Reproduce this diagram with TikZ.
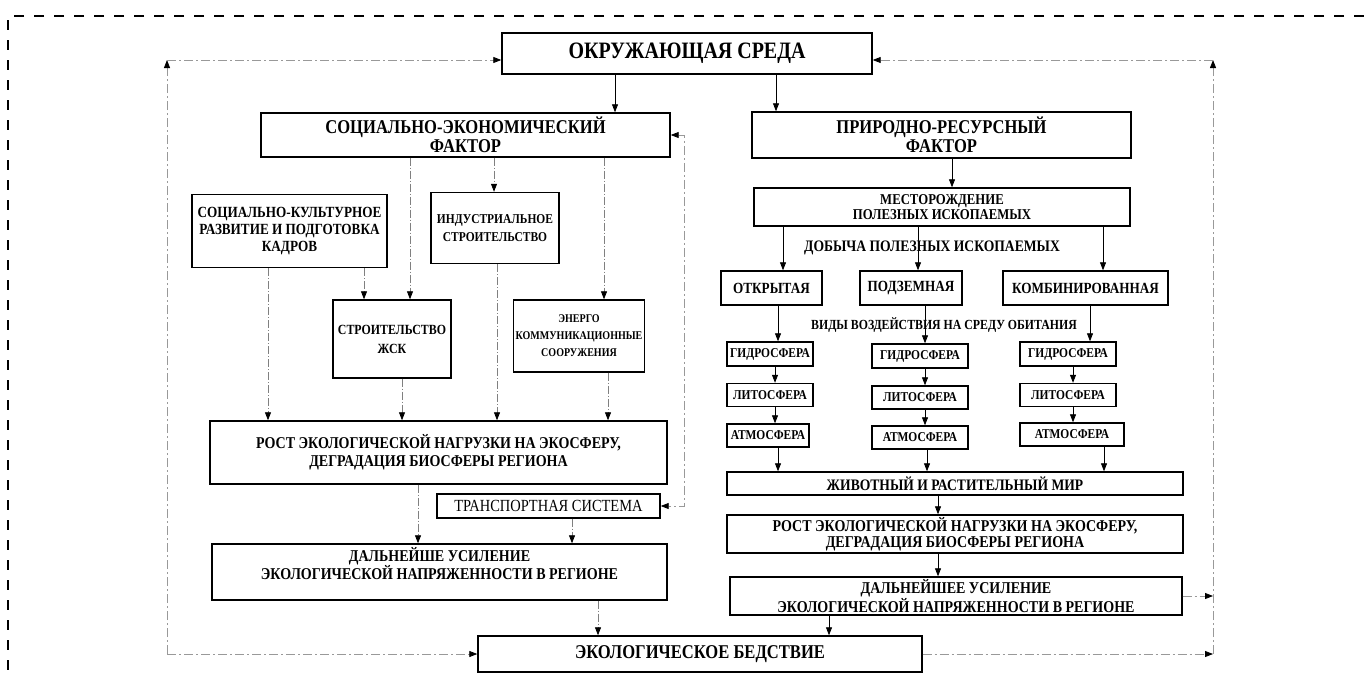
\documentclass[tikz,border=0pt]{standalone}
\usepackage{fontspec}
\setmainfont{Liberation Serif}[FakeStretch=0.85]
\usetikzlibrary{arrows.meta}

\begin{document}
\begin{tikzpicture}[x=1pt, y=-1pt,
    >={Triangle[length=8pt,width=6pt,color=black]},
    arr/.style={->, line width=.8pt},
    dd/.style={arr, gray, dash pattern=on 8pt off 2pt on 1pt off 2pt},
    fb/.style={arr, gray!80, dash pattern=on 9pt off 3pt on 2pt off 3pt},
  ]
  \useasboundingbox (0,0) rectangle (1364,675);
  \draw[line width=2.5pt, dash pattern=on 10pt off 10pt] (1364,16) -- (8,16) -- (8,675);

  \begin{scope}[
    every node/.style={
    draw,
    line width=1.4pt,
    align=center,
    inner sep=1pt,
    font=\bfseries\fontsize{15.5}{17}\selectfont,
    }
  ]
    \node[minimum width=370pt, minimum height=41pt, font=\bfseries\fontsize{23.5}{25}\selectfont] (a) at (687, 53.5) {ОКРУЖАЮЩАЯ СРЕДА};
    \node[minimum width=409pt, minimum height=44pt, font=\bfseries\fontsize{19.5}{19.5}\selectfont] (b) at (465.5, 135) {СОЦИАЛЬНО-ЭКОНОМИЧЕСКИЙ\\ФАКТОР};
    \node[minimum width=379pt, minimum height=46pt, font=\bfseries\fontsize{19.5}{19.5}\selectfont] (c) at (941.5, 135) {ПРИРОДНО-РЕСУРСНЫЙ\\ФАКТОР};
    \node[minimum width=195pt, minimum height=73pt] (d) at (289.5, 231) {СОЦИАЛЬНО-КУЛЬТУРНОЕ\\РАЗВИТИЕ И ПОДГОТОВКА\\КАДРОВ};
    \node[minimum width=128pt, minimum height=71pt, font=\bfseries\fontsize{13.5}{18}\selectfont] (e) at (495, 228) {ИНДУСТРИАЛЬНОЕ\\СТРОИТЕЛЬСТВО};
    \node[minimum width=118pt, minimum height=78pt, font=\bfseries\fontsize{14}{19}\selectfont] (f) at (392, 339) {СТРОИТЕЛЬСТВО\\ЖСК};
    \node[minimum width=131pt, minimum height=72pt, font=\bfseries\fontsize{11.8}{17}\selectfont] (g) at (579, 336) {ЭНЕРГО\\КОММУНИКАЦИОННЫЕ\\СООРУЖЕНИЯ};
    \node[minimum width=457pt, minimum height=63pt, font=\bfseries\fontsize{16.5}{18}\selectfont] (h) at (438.5, 452.5) {РОСТ ЭКОЛОГИЧЕСКОЙ НАГРУЗКИ НА ЭКОСФЕРУ,\\ДЕГРАДАЦИЯ БИОСФЕРЫ РЕГИОНА};
    \node[minimum width=223pt, minimum height=24pt, font=\fontsize{17}{18}\selectfont] (i) at (548.5, 506) {ТРАНСПОРТНАЯ СИСТЕМА};
    \node[minimum width=455pt, minimum height=56pt, font=\bfseries\fontsize{16.5}{16}\selectfont] (j) at (439.5, 572) {ДАЛЬНЕЙШЕ УСИЛЕНИЕ\\ЭКОЛОГИЧЕСКОЙ НАПРЯЖЕННОСТИ В РЕГИОНЕ\\[1pt] \mbox{}};
    \node[minimum width=444pt, minimum height=36pt, font=\bfseries\fontsize{19.5}{20}\selectfont] (k) at (700, 654) {ЭКОЛОГИЧЕСКОЕ БЕДСТВИЕ};

    \node[minimum width=376pt, minimum height=38pt, font=\bfseries\fontsize{15}{15}\selectfont] (l) at (942, 207) {МЕСТОРОЖДЕНИЕ\\ПОЛЕЗНЫХ ИСКОПАЕМЫХ};
    \node[minimum width=101pt, minimum height=34pt] (m) at (771.5, 288) {ОТКРЫТАЯ};
    \node[minimum width=102pt, minimum height=34pt] (n) at (911, 288) {ПОДЗЕМНАЯ};
    \node[minimum width=165pt, minimum height=34pt] (o) at (1085.5, 288) {КОМБИНИРОВАННАЯ};

    \node[minimum width=86pt, minimum height=24pt, font=\bfseries\fontsize{13.5}{14}\selectfont] (p1) at (770, 354) {ГИДРОСФЕРА};
    \node[minimum width=96pt, minimum height=24pt, font=\bfseries\fontsize{13.5}{14}\selectfont] (p2) at (920, 356) {ГИДРОСФЕРА};
    \node[minimum width=96pt, minimum height=24pt, font=\bfseries\fontsize{13.5}{14}\selectfont] (p3) at (1068, 354) {ГИДРОСФЕРА};
    \node[minimum width=86pt, minimum height=23pt, font=\bfseries\fontsize{13.5}{14}\selectfont] (q1) at (770, 395) {ЛИТОСФЕРА};
    \node[minimum width=96pt, minimum height=23pt, font=\bfseries\fontsize{13.5}{14}\selectfont] (q2) at (920, 397.5) {ЛИТОСФЕРА};
    \node[minimum width=96pt, minimum height=23pt, font=\bfseries\fontsize{13.5}{14}\selectfont] (q3) at (1068, 395) {ЛИТОСФЕРА};
    \node[minimum width=82pt, minimum height=23pt, font=\bfseries\fontsize{13.5}{14}\selectfont] (r1) at (768, 435.5) {АТМОСФЕРА};
    \node[minimum width=96pt, minimum height=23pt, font=\bfseries\fontsize{13.5}{14}\selectfont] (r2) at (920, 437.5) {АТМОСФЕРА};
    \node[minimum width=104pt, minimum height=23pt, font=\bfseries\fontsize{13.5}{14}\selectfont] (r3) at (1072, 434.5) {АТМОСФЕРА};

    \node[minimum width=456pt, minimum height=23pt, font=\bfseries\fontsize{16}{17}\selectfont] (s) at (955, 483.5) {ЖИВОТНЫЙ И РАСТИТЕЛЬНЫЙ МИР};
    \node[minimum width=456pt, minimum height=38pt, font=\bfseries\fontsize{16.5}{16}\selectfont] (t) at (955, 534) {РОСТ ЭКОЛОГИЧЕСКОЙ НАГРУЗКИ НА ЭКОСФЕРУ,\\ДЕГРАДАЦИЯ БИОСФЕРЫ РЕГИОНА};
    \node[minimum width=452pt, minimum height=38pt, font=\bfseries\fontsize{16.5}{16}\selectfont] (u) at (956, 596) {ДАЛЬНЕЙШЕЕ УСИЛЕНИЕ\\ЭКОЛОГИЧЕСКОЙ НАПРЯЖЕННОСТИ В РЕГИОНЕ};
  \end{scope}

  \node[font=\bfseries\fontsize{16}{17}\selectfont] (v) at (932, 248) {ДОБЫЧА ПОЛЕЗНЫХ ИСКОПАЕМЫХ};
  \node[font=\bfseries\fontsize{13.9}{16}\selectfont] (w) at (944, 325) {ВИДЫ ВОЗДЕЙСТВИЯ НА СРЕДУ ОБИТАНИЯ};

  % left branch
  \draw[arr] (a.south -| 615,0) -- (b.north -| 615,0);
  \draw[dd] (b.south -| 494,0) -- (e.north -| 494,0);
  \draw[dd] (b.south -| 410,0) -- (f.north -| 410,0);
  \draw[dd] (b.south -| 604,0) -- (g.north -| 604,0);
  \draw[dd] (d.south -| 364,0) -- (f.north -| 364,0);
  \draw[dd] (d.south -| 268,0) -- (h.north -| 268,0);
  \draw[dd] (f.south -| 402,0) -- (h.north -| 402,0);
  \draw[dd] (e.south -| 497,0) -- (h.north -| 497,0);
  \draw[dd] (g.south -| 608,0) -- (h.north -| 608,0);
  \draw[dd] (h.south -| 418,0) -- (j.north -| 418,0);
  \draw[dd] (i.south -| 572,0) -- (j.north -| 572,0);
  \draw[dd] (j.south -| 598,0) -- (k.north -| 598,0);
  \draw[fb, <->] (b.east) -- ++(14,0) |- (i.east);

  % right branch
  \draw[arr] (a.south -| 776,0) -- (c.north -| 776,0);
  \draw[arr] (c.south -| 952,0) -- (l.north -| 952,0);
  \draw[arr] (l.south -| 783,0) -- (m.north -| 783,0);
  \draw[arr] (l.south -| 918,0) -- (n.north -| 918,0);
  \draw[arr] (l.south -| 1103,0) -- (o.north -| 1103,0);
  \draw[arr] (m.south -| 778,0) -- (p1.north -| 778,0);
  \draw[arr] (n.south -| 925,0) -- (p2.north -| 925,0);
  \draw[arr] (o.south -| 1090,0) -- (p3.north -| 1090,0);
  \draw[arr] (p1.south -| 775,0) -- (q1.north -| 775,0);
  \draw[arr] (q1.south -| 775,0) -- (r1.north -| 775,0);
  \draw[arr] (p2.south -| 925,0) -- (q2.north -| 925,0);
  \draw[arr] (q2.south -| 925,0) -- (r2.north -| 925,0);
  \draw[arr] (p3.south -| 1073,0) -- (q3.north -| 1073,0);
  \draw[arr] (q3.south -| 1073,0) -- (r3.north -| 1073,0);
  \draw[arr] (r1.south -| 778,0) -- (s.north -| 778,0);
  \draw[arr] (r2.south -| 927,0) -- (s.north -| 927,0);
  \draw[arr] (r3.south -| 1104,0) -- (s.north -| 1104,0);
  \draw[arr] (s.south -| 938,0) -- (t.north -| 938,0);
  \draw[arr] (t.south -| 938,0) -- (u.north -| 938,0);
  \draw[arr] (u.south -| 829,0) -- (k.north -| 829,0);

  % feedback loops
  \coordinate (tl) at (167, 60);
  \coordinate (bl) at (167, 654);
  \coordinate (tr) at (1213, 60);
  \coordinate (br) at (1213, 654);
  \draw[fb] (bl) -- (tl);
  \draw[fb] (tl) -- (tl -| a.west);
  \draw[fb] (bl) -- (k.west);
  \draw[fb] (k.east) -- (br);
  \draw[fb] (br) -- (tr);
  \draw[fb] (tr) -- (tr -| a.east);
  \draw[fb] (u.east) -- (u.east -| br);
\end{tikzpicture}
\end{document}
